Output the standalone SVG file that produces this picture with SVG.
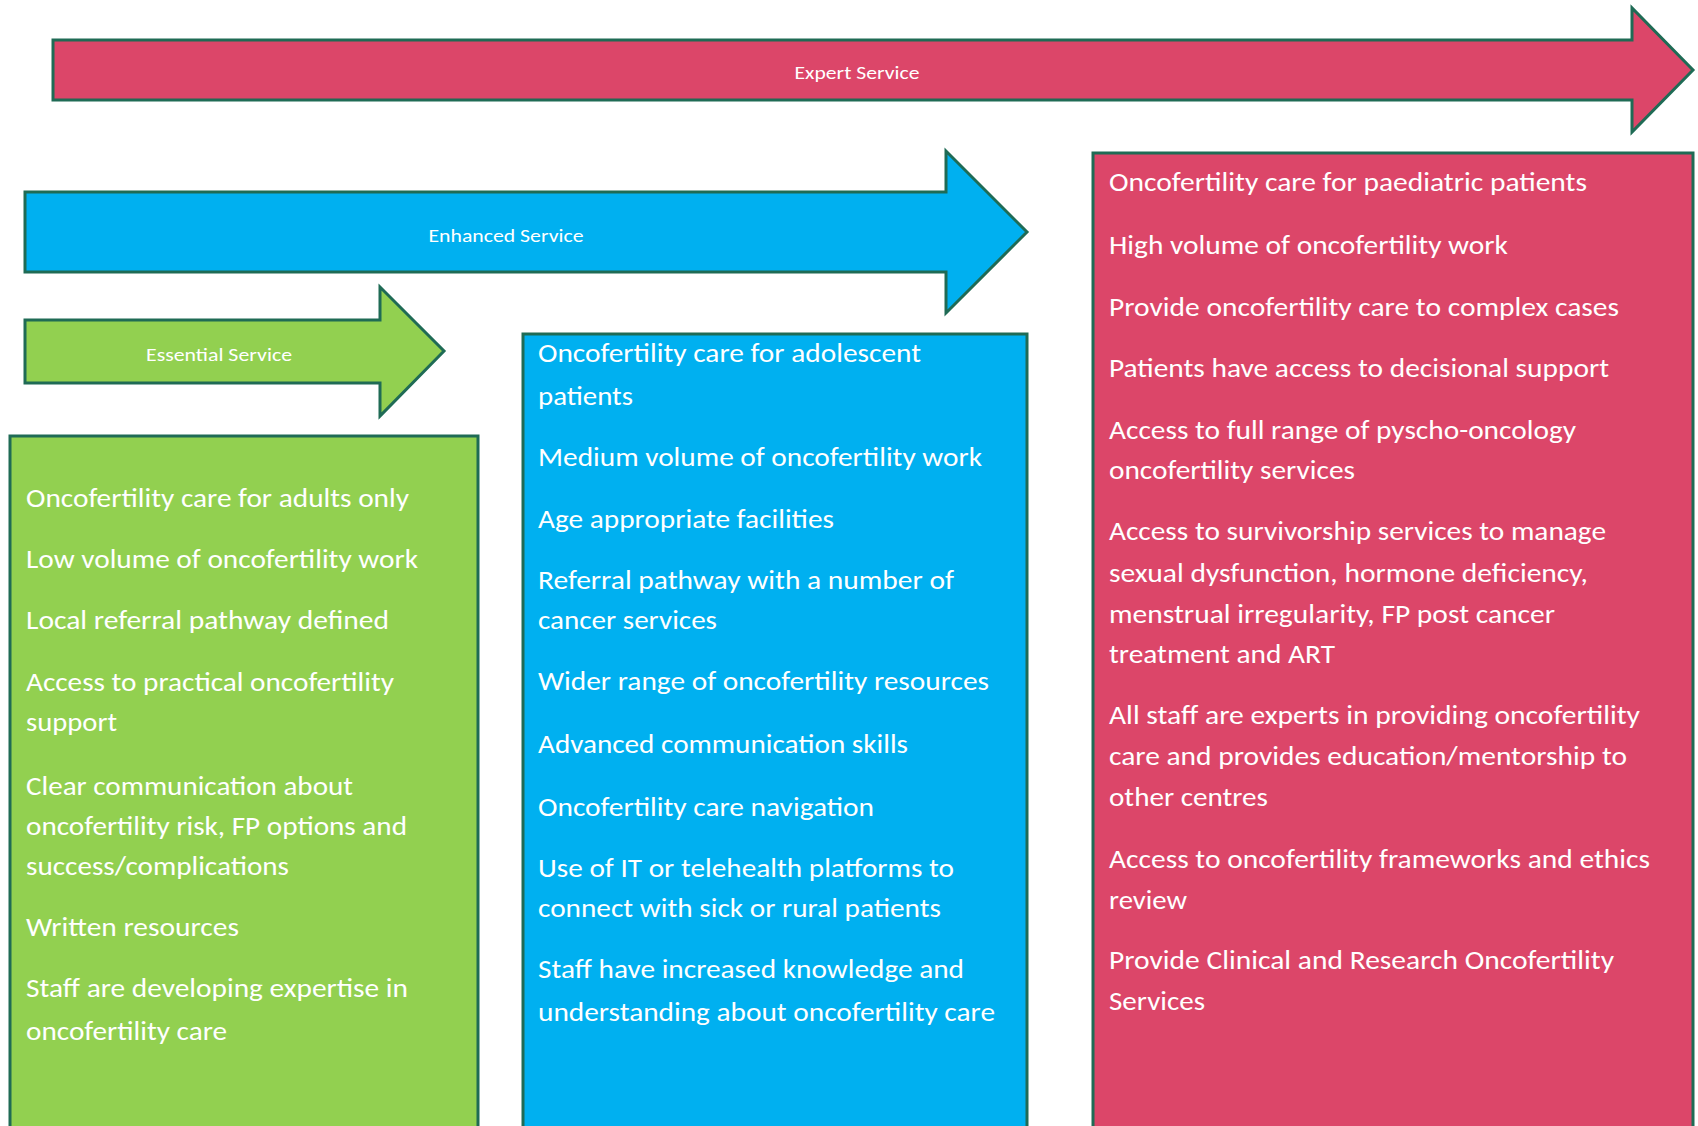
<svg xmlns="http://www.w3.org/2000/svg" width="1698" height="1126" viewBox="0 0 1698 1126">
<style>
.sh{stroke:#1F6B55;stroke-width:3;stroke-linejoin:miter}
.red{fill:#DC4669}
.blue{fill:#00B0F0}
.green{fill:#92D050}
text{font-family:Carlito,Lato,"Open Sans",sans-serif;fill:#FFFFFF}
.lbl{font-size:19px;text-anchor:middle}
.t{font-size:26px}
</style>
<rect width="1698" height="1126" fill="#FFFFFF"/>
<g id="expert-arrow">
<polygon class="sh red" points="53,40 1632,40 1632,8 1693,70 1632,132 1632,100 53,100"/>
<text class="lbl" x="857" y="79" textLength="125" lengthAdjust="spacingAndGlyphs">Expert Service</text>
</g>
<g id="enhanced-arrow">
<polygon class="sh blue" points="25,192 946,192 946,151 1027,232 946,313 946,272 25,272"/>
<text class="lbl" x="506" y="242" textLength="155" lengthAdjust="spacingAndGlyphs">Enhanced Service</text>
</g>
<g id="essential-arrow">
<polygon class="sh green" points="25,320 380,320 380,287 444,351 380,416 380,383 25,383"/>
<text class="lbl" x="219" y="361" textLength="146" lengthAdjust="spacingAndGlyphs">Essential Service</text>
</g>
<g id="essential-box">
<rect class="sh green" x="10" y="436" width="468" height="720"/>
<g class="t">
<text x="26" y="507" textLength="383" lengthAdjust="spacingAndGlyphs">Oncofertility care for adults only</text>
<text x="26" y="568" textLength="392" lengthAdjust="spacingAndGlyphs">Low volume of oncofertility work</text>
<text x="26" y="629" textLength="363" lengthAdjust="spacingAndGlyphs">Local referral pathway defined</text>
<text x="26" y="691" textLength="368" lengthAdjust="spacingAndGlyphs">Access to practical oncofertility</text>
<text x="26" y="731" textLength="91" lengthAdjust="spacingAndGlyphs">support</text>
<text x="26" y="795" textLength="327" lengthAdjust="spacingAndGlyphs">Clear communication about</text>
<text x="26" y="835" textLength="381" lengthAdjust="spacingAndGlyphs">oncofertility risk, FP options and</text>
<text x="26" y="875" textLength="263" lengthAdjust="spacingAndGlyphs">success/complications</text>
<text x="26" y="936" textLength="213" lengthAdjust="spacingAndGlyphs">Written resources</text>
<text x="26" y="997" textLength="382" lengthAdjust="spacingAndGlyphs">Staff are developing expertise in</text>
<text x="26" y="1040" textLength="201" lengthAdjust="spacingAndGlyphs">oncofertility care</text>
</g>
</g>
<g id="enhanced-box">
<rect class="sh blue" x="523" y="334" width="504" height="820"/>
<g class="t">
<text x="538" y="362" textLength="383" lengthAdjust="spacingAndGlyphs">Oncofertility care for adolescent</text>
<text x="538" y="405" textLength="95" lengthAdjust="spacingAndGlyphs">patients</text>
<text x="538" y="466" textLength="444" lengthAdjust="spacingAndGlyphs">Medium volume of oncofertility work</text>
<text x="538" y="528" textLength="296" lengthAdjust="spacingAndGlyphs">Age appropriate facilities</text>
<text x="538" y="589" textLength="416" lengthAdjust="spacingAndGlyphs">Referral pathway with a number of</text>
<text x="538" y="629" textLength="179" lengthAdjust="spacingAndGlyphs">cancer services</text>
<text x="538" y="690" textLength="451" lengthAdjust="spacingAndGlyphs">Wider range of oncofertility resources</text>
<text x="538" y="753" textLength="370" lengthAdjust="spacingAndGlyphs">Advanced communication skills</text>
<text x="538" y="816" textLength="336" lengthAdjust="spacingAndGlyphs">Oncofertility care navigation</text>
<text x="538" y="877" textLength="416" lengthAdjust="spacingAndGlyphs">Use of IT or telehealth platforms to</text>
<text x="538" y="917" textLength="403" lengthAdjust="spacingAndGlyphs">connect with sick or rural patients</text>
<text x="538" y="978" textLength="426" lengthAdjust="spacingAndGlyphs">Staff have increased knowledge and</text>
<text x="538" y="1021" textLength="457" lengthAdjust="spacingAndGlyphs">understanding about oncofertility care</text>
</g>
</g>
<g id="expert-box">
<rect class="sh red" x="1093" y="153" width="600" height="1000"/>
<g class="t">
<text x="1109" y="191" textLength="478" lengthAdjust="spacingAndGlyphs">Oncofertility care for paediatric patients</text>
<text x="1109" y="254" textLength="399" lengthAdjust="spacingAndGlyphs">High volume of oncofertility work</text>
<text x="1109" y="316" textLength="510" lengthAdjust="spacingAndGlyphs">Provide oncofertility care to complex cases</text>
<text x="1109" y="377" textLength="500" lengthAdjust="spacingAndGlyphs">Patients have access to decisional support</text>
<text x="1109" y="439" textLength="467" lengthAdjust="spacingAndGlyphs">Access to full range of pyscho-oncology</text>
<text x="1109" y="479" textLength="246" lengthAdjust="spacingAndGlyphs">oncofertility services</text>
<text x="1109" y="540" textLength="497" lengthAdjust="spacingAndGlyphs">Access to survivorship services to manage</text>
<text x="1109" y="582" textLength="479" lengthAdjust="spacingAndGlyphs">sexual dysfunction, hormone deficiency,</text>
<text x="1109" y="623" textLength="446" lengthAdjust="spacingAndGlyphs">menstrual irregularity, FP post cancer</text>
<text x="1109" y="663" textLength="226" lengthAdjust="spacingAndGlyphs">treatment and ART</text>
<text x="1109" y="724" textLength="531" lengthAdjust="spacingAndGlyphs">All staff are experts in providing oncofertility</text>
<text x="1109" y="765" textLength="518" lengthAdjust="spacingAndGlyphs">care and provides education/mentorship to</text>
<text x="1109" y="806" textLength="159" lengthAdjust="spacingAndGlyphs">other centres</text>
<text x="1109" y="868" textLength="541" lengthAdjust="spacingAndGlyphs">Access to oncofertility frameworks and ethics</text>
<text x="1109" y="909" textLength="78" lengthAdjust="spacingAndGlyphs">review</text>
<text x="1109" y="969" textLength="505" lengthAdjust="spacingAndGlyphs">Provide Clinical and Research Oncofertility</text>
<text x="1109" y="1010" textLength="96" lengthAdjust="spacingAndGlyphs">Services</text>
</g>
</g>
<g id="connectors"></g>
</svg>
